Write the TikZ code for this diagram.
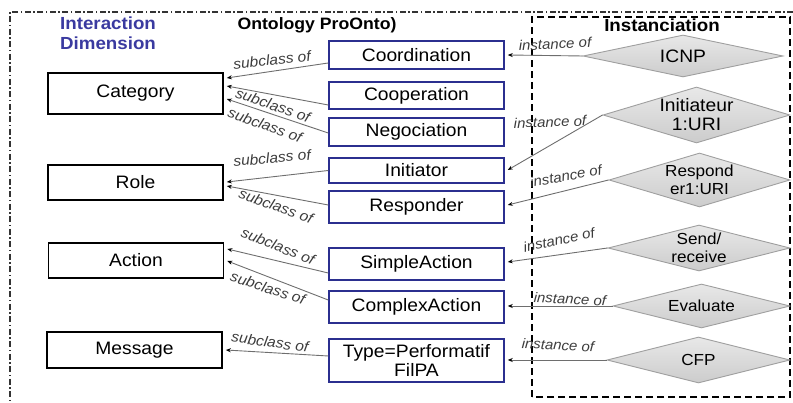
\documentclass[tikz,border=0pt]{standalone}
\usepackage{fontspec}
\setmainfont{Liberation Sans}[FakeStretch=1.07]
\usetikzlibrary{shapes.geometric,arrows.meta,calc}
\definecolor{navy}{RGB}{43,47,143}
\definecolor{titleblue}{RGB}{58,58,160}
\definecolor{lblgray}{RGB}{60,60,60}
\definecolor{linegray}{RGB}{110,110,110}
\tikzset{
  dimbox/.style={draw=black,line width=1.6pt,fill=white,minimum width=175pt,inner sep=0pt,font=\fontsize{18}{20}\selectfont},
  ontbox/.style={draw=navy,line width=1.5pt,fill=white,minimum width=175pt,inner sep=0pt,align=center,font=\fontsize{18}{19}\selectfont},
  inst/.style={draw=gray!75,line width=0.9pt,shape=diamond,top color=gray!18,bottom color=gray!40,inner sep=0pt},
  insttxt/.style={inner sep=0pt,align=center,font=\fontsize{16}{18}\selectfont},
  subarrow/.style={draw=linegray,line width=0.9pt,-{Stealth[length=5pt,width=4pt,black]}},
  sublbl/.style={text=lblgray,font=\fontsize{14.5}{16}\selectfont\itshape,inner sep=0pt},
  instlbl/.style={text=lblgray,font=\fontsize{14}{16}\selectfont\itshape,inner sep=0pt},
  ttl/.style={font=\fontsize{17.5}{20}\selectfont\bfseries,inner sep=0pt},
}
\begin{document}
\begin{tikzpicture}[x=1pt,y=1pt]
\useasboundingbox (0,0) rectangle (793,403);
% borders
\draw[gray!40!black,line width=1.2pt,dash pattern=on 6pt off 2.5pt on 1.5pt off 2.5pt] (793,391) -- (10,391) -- (10,0);
\draw[black,line width=1.5pt,dash pattern=on 7pt off 4pt] (532,6) rectangle (790,386);
% titles
\node[ttl,text=titleblue,align=left,anchor=west] (tdim) at (60,369.5) {Interaction\\Dimension};
\node[ttl,font=\fontsize{16.5}{20}\selectfont\bfseries] (tont) at (317,378) {Ontology ProOnto)};
\node[ttl] (tinst) at (662,378) {Instanciation};
% left boxes
\node[dimbox,minimum height=41pt] (cat) at (135.5,309.5) {Category};
\node[dimbox,minimum height=35pt] (role) at (135.5,220.5) {Role};
\node[dimbox,minimum height=35pt] (act) at (136,142.5) {Action};
\node[dimbox,minimum height=36pt] (msg) at (134.5,53) {Message};
% ontology boxes
\node[ontbox,minimum height=28pt] (coord) at (416.5,348) {Coordination};
\node[ontbox,minimum height=27pt] (coop) at (416.5,307.5) {Cooperation};
\node[ontbox,minimum height=28pt] (nego) at (416.5,271) {Negociation};
\node[ontbox,minimum height=25pt] (init) at (416.5,232.5) {Initiator};
\node[ontbox,minimum height=32pt] (resp) at (416.5,196) {Responder};
\node[ontbox,minimum height=32pt] (simple) at (416.5,139) {SimpleAction};
\node[ontbox,minimum height=32pt] (complex) at (416.5,96) {ComplexAction};
\node[ontbox,minimum height=43pt] (type) at (416.5,42.5) {Type=Performatif\\FilPA};
% instances (shapes)
\node[inst,minimum width=200pt,minimum height=42pt] (icnp) at (683,347) {};
\node[inst,minimum width=187pt,minimum height=56pt] (initi) at (696.5,288) {};
\node[inst,minimum width=181pt,minimum height=54pt] (respi) at (699.5,223) {};
\node[inst,minimum width=182pt,minimum height=46pt] (send) at (699,155) {};
\node[inst,minimum width=177pt,minimum height=44pt] (eval) at (701.5,97) {};
\node[inst,minimum width=183pt,minimum height=46pt] (cfp) at (698.5,43) {};
% instances (texts)
\node[insttxt,font=\fontsize{18}{19}\selectfont] (icnpt) at (icnp) {ICNP};
\node[insttxt,font=\fontsize{18}{19}\selectfont] (initit) at (initi) {Initiateur\\1:URI};
\node[insttxt] (respit) at (respi) {Respond\\er1:URI};
\node[insttxt] (sendt) at (send) {Send/\\receive};
\node[insttxt] (evalt) at (eval) {Evaluate};
\node[insttxt] (cfpt) at (cfp) {CFP};
% subclass arrows
\draw[subarrow] ($(coord.west)+(0,-8)$) -- ($(cat.east)+(3,15.5)$);
\draw[subarrow] ($(coop.west)+(0,-9.5)$) -- ($(cat.east)+(3,7.5)$);
\draw[subarrow] ($(nego.west)+(0,-1)$) -- ($(cat.east)+(3,-5.5)$);
\draw[subarrow] ($(init.west)+(0,0)$) -- ($(role.east)+(3,0.5)$);
\draw[subarrow] ($(resp.west)+(0,2)$) -- ($(role.east)+(3,-3.5)$);
\draw[subarrow] ($(simple.west)+(0,-9)$) -- ($(act.east)+(3,11.5)$);
\draw[subarrow] ($(complex.west)+(0,7)$) -- ($(act.east)+(3,-0.5)$);
\draw[subarrow] ($(type.west)+(0,4.5)$) -- ($(msg.east)+(3,0)$);
% subclass labels
\node[sublbl,rotate=6] (l1) at (272,343) {subclass of};
\node[sublbl,rotate=-19] (l2) at (273,298) {subclass of};
\node[sublbl,rotate=-20] (l3) at (265,278) {subclass of};
\node[sublbl,rotate=5] (l4) at (272,245) {subclass of};
\node[sublbl,rotate=-20] (l5) at (276,197) {subclass of};
\node[sublbl,rotate=-22] (l6) at (278,157) {subclass of};
\node[sublbl,rotate=-18] (l7) at (268,115) {subclass of};
\node[sublbl,rotate=-8] (l8) at (270,61) {subclass of};
% instance arrows
\draw[subarrow] (icnp.west) -- ($(coord.east)+(3,0)$);
\draw[subarrow] (initi.west) -- ($(init.east)+(3,0.5)$);
\draw[subarrow] (respi.west) -- ($(resp.east)+(3,2)$);
\draw[subarrow] (send.west) -- ($(simple.east)+(3,2)$);
\draw[subarrow] (eval.west) -- ($(complex.east)+(3,1)$);
\draw[subarrow] (cfp.west) -- ($(type.east)+(3,0.5)$);
% instance labels
\node[instlbl,rotate=3] (i1) at (555,359) {instance of};
\node[instlbl,rotate=2] (i2) at (550,281) {instance of};
\node[instlbl,rotate=10] (i3) at (566,227) {instance of};
\node[instlbl,rotate=12] (i4) at (559,163) {instance of};
\node[instlbl,rotate=-3] (i5) at (570,104) {instance of};
\node[instlbl,rotate=-3] (i6) at (558,58) {instance of};
\end{tikzpicture}
\end{document}
